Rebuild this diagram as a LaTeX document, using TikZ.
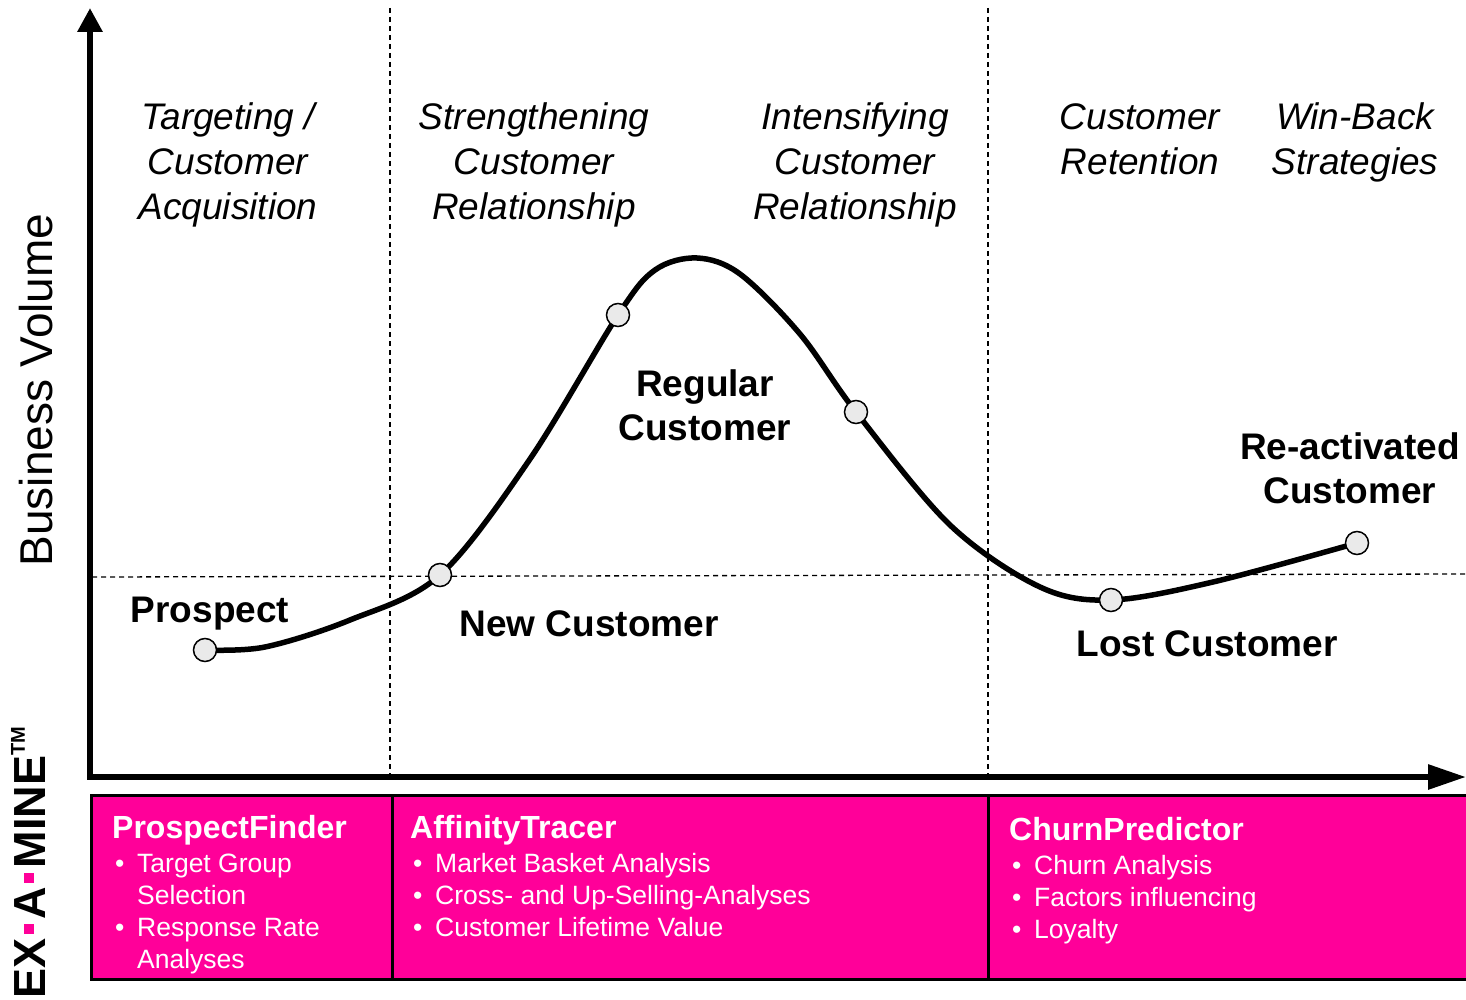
\documentclass[tikz,border=0pt]{standalone}
\usepackage{fontspec}
\setmainfont{Liberation Sans}
\usetikzlibrary{arrows.meta}

\definecolor{exPink}{RGB}{255,0,153}
\definecolor{pointGray}{RGB}{234,234,234}

\newcommand{\exdot}{\hspace{0.1em}\textcolor{exPink}{\rule[0.25em]{0.22em}{0.22em}}\hspace{0.1em}}
\newcommand{\itm}{\makebox[25pt][l]{\hspace{3pt}\textbullet}}
\newcommand{\cont}{\hspace*{25pt}}

\begin{document}
\begin{tikzpicture}[x=1pt,y=-1pt]

\def\phaseA{390}
\def\phaseB{988}
\def\axisY{777}

\tikzstyle{phase}=[font=\fontsize{37}{45}\selectfont\itshape, align=center, anchor=base, inner sep=0pt]
\tikzstyle{stage}=[font=\fontsize{37}{44}\selectfont\bfseries, align=center, anchor=base, inner sep=0pt]
\tikzstyle{milestone}=[circle, draw=black, line width=1.5pt, fill=pointGray, minimum size=23pt, inner sep=0pt]
\tikzstyle{tool}=[rectangle, draw=black, line width=2.5pt, fill=exPink, anchor=north west, minimum height=184pt, inner sep=0pt]
\tikzstyle{toolText}=[text=white, font=\fontsize{26.5}{32}\selectfont, align=left, anchor=base west, inner sep=0pt]
\tikzstyle{guide}=[line width=1.3pt, dash pattern=on 5pt off 4pt]

\useasboundingbox (0,0) rectangle (1466,1000);

%Guide lines
\draw[guide] (\phaseA,8) -- (\phaseA,\axisY);
\draw[guide] (\phaseB,8) -- (\phaseB,\axisY);
\draw[guide] (92,577) -- (1466,574);

%Axes
\coordinate (origin) at (90,\axisY);
\coordinate (yTop) at (90,8);
\coordinate (xEnd) at (1466,\axisY);
\draw[line width=6pt, {Triangle[width=24pt,length=24pt]}-{Triangle[width=24pt,length=38pt]}] (yTop) -- (origin) -- (xEnd);

\node[font=\fontsize{46}{46}\selectfont, rotate=90, anchor=base, inner sep=0pt] (yLabel) at (52,390) {Business Volume};

%Phase headings (base = last line)
\node[phase] (targeting)     at (228,220)  {Targeting /\\Customer\\Acquisition};
\node[phase] (strengthening) at (534,220)  {Strengthening\\Customer\\Relationship};
\node[phase] (intensifying)  at (855,220)  {Intensifying\\Customer\\Relationship};
\node[phase] (retention)     at (1140,175) {Customer\\Retention};
\node[phase] (winBack)       at (1355,175) {Win-Back\\Strategies};

%Customer curve
\coordinate (pProspect) at (205,650);
\coordinate (c1) at (265,647);
\coordinate (c2) at (350,620);
\coordinate (pNew) at (440,575);
\coordinate (c3) at (530,459);
\coordinate (pRegUp) at (618,315);
\coordinate (c4) at (655,270);
\coordinate (c5) at (697,258);
\coordinate (c6) at (740,274);
\coordinate (c7) at (800,334);
\coordinate (pRegDown) at (856,412);
\coordinate (c8) at (950,525);
\coordinate (c9) at (1040,587);
\coordinate (pLost) at (1111,600);
\coordinate (c10) at (1213,582);
\coordinate (pReact) at (1357,543);

\draw[line width=5.5pt, line cap=round] plot[smooth, tension=0.55] coordinates {(pProspect) (c1) (c2) (pNew) (c3) (pRegUp) (c4) (c5) (c6) (c7) (pRegDown) (c8) (c9) (pLost) (c10) (pReact)};

\node[milestone] (mProspect) at (pProspect) {};
\node[milestone] (mNew)      at (pNew) {};
\node[milestone] (mRegUp)    at (pRegUp) {};
\node[milestone] (mRegDown)  at (pRegDown) {};
\node[milestone] (mLost)     at (pLost) {};
\node[milestone] (mReact)    at (pReact) {};

%Stage labels
\node[stage] (prospect) at (210,622)  {Prospect};
\node[stage] (newCust)  at (589,636)  {New Customer};
\node[stage] (regular)  at (705,440)  {Regular\\Customer};
\node[stage] (lost)     at (1207,656) {Lost Customer};
\node[stage] (react)    at (1350,503) {Re-activated\\Customer};

%Tool boxes
\node[tool, minimum width=301pt] (boxFinder)  at (90,794)  {};
\node[tool, minimum width=597pt] (boxTracer)  at (391,794) {};
\node[tool, minimum width=480pt] (boxChurn)   at (987,794) {};

\node[toolText] (finderText) at ([xshift=22pt,yshift=-174pt]boxFinder.north west)
  {{\fontsize{32}{34}\selectfont\bfseries ProspectFinder}\\[2pt]
   \itm Target Group\\ \cont Selection\\ \itm Response Rate\\ \cont Analyses};
\node[toolText] (tracerText) at ([xshift=19pt,yshift=-142pt]boxTracer.north west)
  {{\fontsize{32}{34}\selectfont\bfseries AffinityTracer}\\[2pt]
   \itm Market Basket Analysis\\ \itm Cross- and Up-Selling-Analyses\\ \itm Customer Lifetime Value};
\node[toolText] (churnText) at ([xshift=22pt,yshift=-144pt]boxChurn.north west)
  {{\fontsize{32}{34}\selectfont\bfseries ChurnPredictor}\\[2pt]
   \itm Churn Analysis\\ \itm Factors influencing\\ \itm Loyalty};

%Logo
\node[font=\fontsize{45}{45}\selectfont\bfseries, rotate=90, anchor=base west, inner sep=0pt] (logo) at (45,999)
  {EX\exdot A\exdot MINE\raisebox{0.45em}{\fontsize{20}{20}\selectfont TM}};

\end{tikzpicture}
\end{document}
